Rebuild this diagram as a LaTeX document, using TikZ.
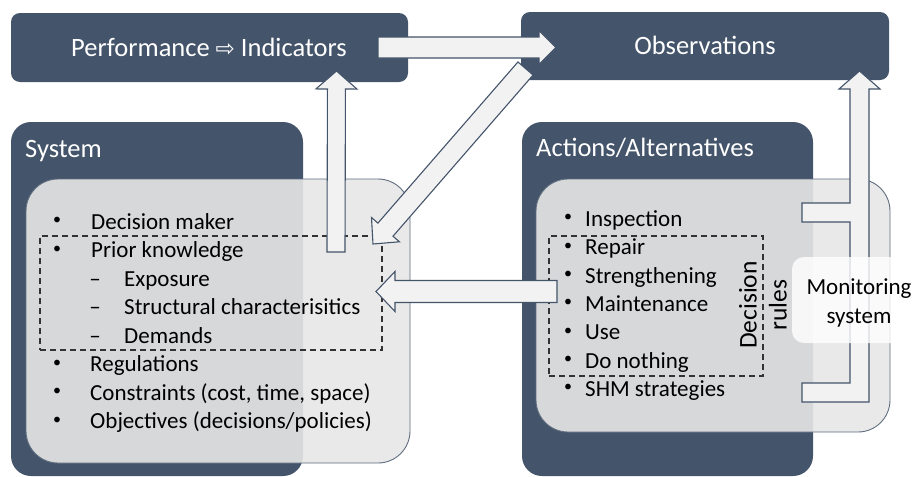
\documentclass[tikz,border=0pt]{standalone}
\usepackage{fontspec}
\setmainfont{Carlito}
\newfontfamily\symf{DejaVu Sans}
\usetikzlibrary{calc}
\definecolor{slate}{HTML}{44546A}
\definecolor{lightfill}{HTML}{E7E7E7}
\definecolor{arrowfill}{HTML}{F2F2F2}
\newcommand\blockarrow[5]{%
  \coordinate (babase) at ($(#2)!#5!(#1)$);
  \draw[barrow] ($(#1)!#3!90:(#2)$) -- ($(babase)!#3!90:(#2)$) -- ($(babase)!#4!90:(#2)$) -- (#2)
     -- ($(babase)!#4!-90:(#2)$) -- ($(babase)!#3!-90:(#2)$) -- ($(#1)!#3!-90:(#2)$) -- cycle;}
\tikzset{
  darkbox/.style={fill=slate, draw=none, rounded corners=9pt, inner sep=0pt},
  bigbox/.style={fill=slate, draw=none, rounded corners=20pt, inner sep=0pt},
  lightbox/.style={fill=lightfill, fill opacity=0.9, draw=slate!85, line width=0.9pt, rounded corners=32pt, inner sep=0pt},
  dashbox/.style={draw=black!80, line width=1.3pt, dash pattern=on 6pt off 4pt, inner sep=0pt},
  barrow/.style={fill=arrowfill, draw=slate, line width=1.1pt, line join=miter},
  title/.style={text=white, font=\fontsize{26.5}{30}\selectfont, inner sep=0pt},
  item/.style={text=black, font=\fontsize{23}{28}\selectfont, inner sep=0pt, anchor=base west},
  bul/.style={text=black, font=\fontsize{23}{28}\selectfont, inner sep=0pt, anchor=base},
  dot/.style={text=black, font=\fontsize{16}{20}\selectfont, inner sep=0pt, anchor=center},
}
\begin{document}
\begin{tikzpicture}[x=1pt, y=-1pt]
\useasboundingbox (0,0) rectangle (914,477);
\clip (0,0) rectangle (914,477);
\fill[white] (0,0) rectangle (914,477);

% dark boxes
\node[darkbox, minimum width=397pt, minimum height=69pt] (perf) at (209.5,47.5) {};
\node[darkbox, minimum width=368pt, minimum height=68pt] (obs) at (705,46) {};
\node[bigbox, minimum width=292pt, minimum height=354pt] (sys) at (157,299) {};
\node[bigbox, minimum width=291pt, minimum height=354pt] (act) at (667.5,299) {};

\node[title, anchor=base] (perft) at (209,56) {Performance {\symf\fontsize{23}{26}\selectfont ⇨} Indicators};
\node[title, anchor=base] (obst) at (705,54) {Observations};
\node[title, anchor=base west] (syst) at (25,157) {System};
\node[title, anchor=base west] (actt) at (536,156) {Actions/Alternatives};

% light boxes
\node[lightbox, minimum width=384pt, minimum height=284pt] (sysin) at (218,321) {};
\node[lightbox, minimum width=354pt, minimum height=253pt] (actin) at (713,305.5) {};

% dashed boxes
\node[dashbox, minimum width=342pt, minimum height=114pt] (pk) at (211,293) {};
\node[dashbox, minimum width=214pt, minimum height=140pt] (dr) at (656,306) {};

% left list
\node[dot] (b1) at (57,221) {•};   \node[item] (t1) at (91,229) {Decision maker};
\node[dot] (b2) at (57,249.5) {•}; \node[item] (t2) at (91,257.5) {Prior knowledge};
\node[bul] (d1) at (95,286) {–};   \node[item] (s1) at (124,286) {Exposure};
\node[bul] (d2) at (95,314.5) {–}; \node[item] (s2) at (124,314.5) {Structural characterisitics};
\node[bul] (d3) at (95,343) {–};   \node[item] (s3) at (124,343) {Demands};
\node[dot] (b3) at (57,363.5) {•}; \node[item] (t3) at (90,371.5) {Regulations};
\node[dot] (b4) at (57,392) {•};   \node[item] (t4) at (90,400) {Constraints (cost, time, space)};
\node[dot] (b5) at (57,420.5) {•}; \node[item] (t5) at (90,428.5) {Objectives (decisions/policies)};

% right list
\node[dot] (r1) at (568,218) {•}; \node[item] (u1) at (585,226) {Inspection};
\node[dot] (r2) at (568,246.5) {•}; \node[item] (u2) at (585,254.5) {Repair};
\node[dot] (r3) at (568,275) {•}; \node[item] (u3) at (585,283) {Strengthening};
\node[dot] (r4) at (568,303) {•}; \node[item] (u4) at (585,311) {Maintenance};
\node[dot] (r5) at (568,331.5) {•}; \node[item] (u5) at (585,339.5) {Use};
\node[dot] (r6) at (568,360) {•}; \node[item] (u6) at (585,368) {Do nothing};
\node[dot] (r7) at (568,388) {•}; \node[item] (u7) at (585,396) {SHM strategies};

\node[rotate=90, align=center, inner sep=0pt, font=\fontsize{25.5}{30}\selectfont] (drt) at (763,305) {Decision\\rules};

% arrows
\coordinate (upS) at (336,252);
\coordinate (upE) at (336.5,71);
\blockarrow{upS}{upE}{9pt}{20.5pt}{18pt}
\coordinate (hS) at (378,47.5);
\coordinate (hE) at (556,47.5);
\blockarrow{hS}{hE}{10.5pt}{17pt}{17pt}
\coordinate (dS) at (525.5,68.5);
\coordinate (dE) at (373,244);
\blockarrow{dS}{dE}{10pt}{18.5pt}{19pt}
\coordinate (lS) at (557,291.5);
\coordinate (lE) at (376,291.5);
\blockarrow{lS}{lE}{11pt}{20pt}{19pt}

% monitoring bracket arrow
\draw[barrow] (802,203) -- (850,203) -- (850,89) -- (839,89) -- (859.5,71) -- (880,89) -- (869,89)
  -- (869,402) -- (802,402) -- (802,383) -- (850,383) -- (850,222) -- (802,222) -- cycle;

\node[fill=white, fill opacity=0.8, draw=none, rounded corners=12pt, minimum width=150pt, minimum height=86pt, inner sep=0pt] (monbox) at (867,300) {};
\node[align=center, inner sep=0pt, font=\fontsize{23}{29}\selectfont] (mont) at (859,303) {Monitoring\\system};
\end{tikzpicture}
\end{document}
